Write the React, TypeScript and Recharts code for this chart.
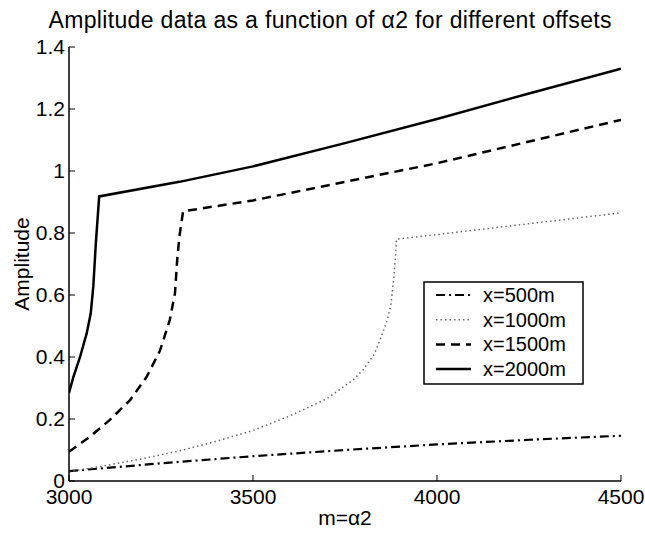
import React from 'react';
import { LineChart, Line, XAxis, YAxis } from 'recharts';

// amplitude vs m=alpha2, one array pair per offset
const m500 = [3000, 3250, 3500, 3750, 4000, 4250, 4500];
const amp500 = [0.032, 0.057, 0.08, 0.1, 0.118, 0.133, 0.146];

const m1000 = [3000, 3100, 3200, 3300, 3400, 3500, 3600, 3700, 3772, 3800, 3830, 3850, 3865, 3875, 3882, 3887, 3890, 4000, 4250, 4500];
const amp1000 = [0.03, 0.05, 0.072, 0.097, 0.128, 0.163, 0.21, 0.265, 0.326, 0.36, 0.41, 0.47, 0.52, 0.57, 0.65, 0.72, 0.78, 0.795, 0.83, 0.865];

const m1500 = [3000, 3057, 3111, 3166, 3211, 3247, 3274, 3288, 3294, 3300, 3310, 3500, 3750, 4000, 4250, 4500];
const amp1500 = [0.094, 0.143, 0.197, 0.261, 0.336, 0.42, 0.52, 0.606, 0.713, 0.788, 0.87, 0.905, 0.965, 1.025, 1.095, 1.165];

const m2000 = [3000, 3012, 3030, 3048, 3059, 3066, 3073, 3082, 3300, 3500, 3750, 4000, 4250, 4500];
const amp2000 = [0.284, 0.336, 0.4, 0.476, 0.54, 0.627, 0.768, 0.918, 0.965, 1.015, 1.09, 1.168, 1.25, 1.33];

const xTicks = [3000, 3500, 4000, 4500];
const yTicks = [0, 0.2, 0.4, 0.6, 0.8, 1, 1.2, 1.4];

const toRows = (xs: number[], ys: number[]) => xs.map((x, i) => ({ x, y: ys[i] }));

const series = [
  { name: 'x=500m', data: toRows(m500, amp500), color: '#000', width: 2.2, dash: '9 4 2 4' },
  { name: 'x=1000m', data: toRows(m1000, amp1000), color: '#666', width: 1.5, dash: '1.5 3' },
  { name: 'x=1500m', data: toRows(m1500, amp1500), color: '#000', width: 2.5, dash: '9 6' },
  { name: 'x=2000m', data: toRows(m2000, amp2000), color: '#000', width: 2.5, dash: undefined },
];

const font = 'Liberation Sans, Arial, Helvetica, sans-serif';
const tickStyle = { fill: '#000', fontSize: 21, fontFamily: font };
const fmt = (v: number) => String(+v.toFixed(1));

export default function App() {
  return (
    <div style={{ position: 'absolute', left: 0, top: 0, width: 645, height: 533, background: '#fff' }}>
      <LineChart width={645} height={533} margin={{ top: 47, right: 24, left: 9, bottom: 22 }}>
        <XAxis
          dataKey="x"
          type="number"
          domain={[3000, 4500]}
          ticks={xTicks}
          allowDataOverflow
          tickSize={-6}
          tickMargin={14}
          height={30}
          tick={tickStyle}
          axisLine={{ stroke: '#000', strokeWidth: 1.5 }}
          tickLine={{ stroke: '#000' }}
        />
        <XAxis
          xAxisId="top"
          orientation="top"
          dataKey="x"
          type="number"
          domain={[3000, 4500]}
          ticks={xTicks}
          tickSize={-6}
          height={0}
          tick={false}
          axisLine={{ stroke: '#000', strokeWidth: 1.5 }}
          tickLine={{ stroke: '#000' }}
        />
        <YAxis
          type="number"
          domain={[0, 1.4]}
          ticks={yTicks}
          allowDataOverflow
          tickSize={-6}
          tickMargin={10}
          width={60}
          tick={tickStyle}
          tickFormatter={fmt}
          axisLine={{ stroke: '#000', strokeWidth: 1.5 }}
          tickLine={{ stroke: '#000' }}
        />
        <YAxis
          yAxisId="right"
          orientation="right"
          type="number"
          domain={[0, 1.4]}
          ticks={yTicks}
          tickSize={-6}
          width={0}
          tick={false}
          axisLine={{ stroke: '#000', strokeWidth: 1.5 }}
          tickLine={{ stroke: '#000' }}
        />
        {series.map((s) => (
          <Line
            key={s.name}
            data={s.data}
            dataKey="y"
            type="linear"
            stroke={s.color}
            strokeWidth={s.width}
            strokeDasharray={s.dash}
            dot={false}
            activeDot={false}
            isAnimationActive={false}
          />
        ))}
      </LineChart>
      <svg
        width={645}
        height={533}
        style={{ position: 'absolute', left: 0, top: 0, pointerEvents: 'none' }}
        fontFamily={font}
      >
        <text x={330} y={28} textAnchor="middle" fontSize={23} textLength={563} lengthAdjust="spacing">
          Amplitude data as a function of α2 for different offsets
        </text>
        <text x={345} y={525} textAnchor="middle" fontSize={21}>
          m=α2
        </text>
        <text x={29} y={264} textAnchor="middle" fontSize={21} transform="rotate(-90 29 264)">
          Amplitude
        </text>
        <rect x={424} y={282} width={159} height={102} fill="#fff" stroke="#000" strokeWidth={1.5} />
        {series.map((s, i) => (
          <g key={s.name}>
            <line
              x1={436}
              x2={471}
              y1={295 + i * 24.7}
              y2={295 + i * 24.7}
              stroke={s.color}
              strokeWidth={s.width}
              strokeDasharray={s.dash}
            />
            <text x={483} y={302 + i * 24.7} fontSize={20}>
              {s.name}
            </text>
          </g>
        ))}
      </svg>
    </div>
  );
}
